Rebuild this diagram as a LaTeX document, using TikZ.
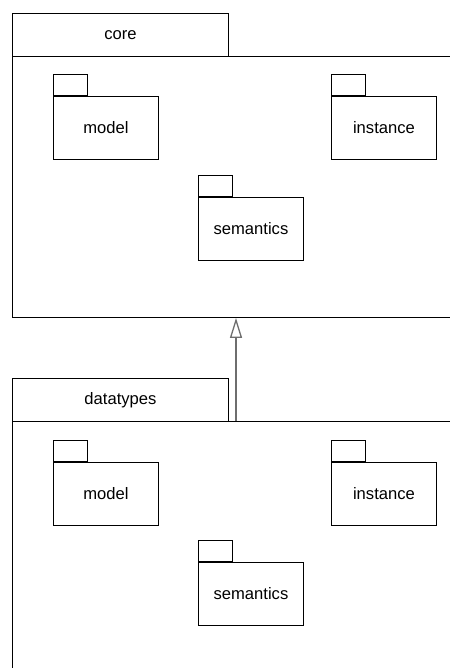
\documentclass[tikz,border=0pt]{standalone}
\usepackage{fontspec}
\setmainfont{Liberation Sans}
\usetikzlibrary{positioning,arrows.meta}
\definecolor{line}{HTML}{000000}
\definecolor{gen}{HTML}{6E6E6E}
\tikzset{
  pkg/.style={draw=line, line width=0.9pt, inner sep=0pt, anchor=north west, font=\fontsize{16.6}{20}\selectfont},
  tabbox/.style={pkg, minimum width=216pt, minimum height=43pt},
  bodybox/.style={pkg, minimum width=470pt},
  subbody/.style={pkg, minimum width=105pt, minimum height=63pt},
  subtab/.style={draw=line, line width=0.9pt, inner sep=0pt, minimum width=34pt, minimum height=21pt},
  genline/.style={draw=gen, line width=1.3pt, -{Triangle[open, length=20pt, width=12pt]}},
}

\begin{document}
\begin{tikzpicture}[x=1pt, y=-1pt]
  \useasboundingbox (0,0) rectangle (449,668);
  % core package
  \node[tabbox] (coretab) at (12,13) {core};
  \node[bodybox, minimum height=261pt] (core) at (12,56) {};
  \node[subbody] (coremodel) at (53,96) {model};
  \node[subtab, above right=0pt of coremodel.north west] (coremodeltab) {};
  \node[subbody] (coreinst) at (331,96) {instance};
  \node[subtab, above right=0pt of coreinst.north west] (coreinsttab) {};
  \node[subbody] (coresem) at (198,197) {semantics};
  \node[subtab, above right=0pt of coresem.north west] (coresemtab) {};
  % datatypes package
  \node[tabbox] (dttab) at (12,378) {datatypes};
  \node[bodybox, minimum height=280pt] (dt) at (12,421) {};
  \node[subbody] (dtmodel) at (53,462) {model};
  \node[subtab, above right=0pt of dtmodel.north west] (dtmodeltab) {};
  \node[subbody] (dtinst) at (331,462) {instance};
  \node[subtab, above right=0pt of dtinst.north west] (dtinsttab) {};
  \node[subbody] (dtsem) at (198,562) {semantics};
  \node[subtab, above right=0pt of dtsem.north west] (dtsemtab) {};
  % generalization
  \coordinate (gen) at (236,421);
  \draw[genline] (gen) -- (gen |- core.south);
\end{tikzpicture}
\end{document}
